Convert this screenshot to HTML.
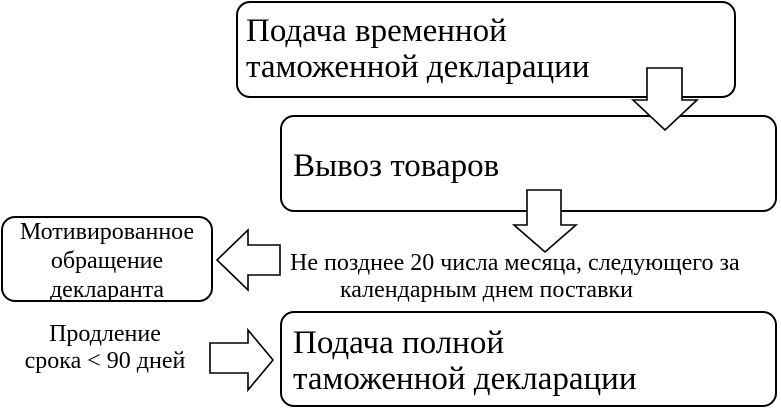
<!DOCTYPE html>
<html><head><meta charset="utf-8"><style>
body{margin:0;width:781px;height:408px;background:#fff;overflow:hidden;position:relative;font-family:"Liberation Serif","DejaVu Serif",serif;color:#000}
.b{position:absolute;border:2px solid #000;border-radius:14px;box-sizing:border-box;background:#fff}
.t{position:absolute;white-space:nowrap;line-height:1}
</style></head><body>
<div class="b" style="left:236px;top:1px;width:500px;height:97px"></div>
<div class="t" style="left:246px;top:13px;font-size:33px;line-height:36px">Подача временной<br>таможенной декларации</div>
<div class="b" style="left:280px;top:115px;width:497px;height:97px"></div>
<div class="t" style="left:293px;top:148px;font-size:33px;line-height:36px">Вывоз товаров</div>
<div class="b" style="left:1px;top:216px;width:212px;height:86px"></div>
<div class="t" style="left:1px;top:218px;width:212px;text-align:center;font-size:24px;line-height:29px">Мотивированное<br>обращение<br>декларанта</div>
<div class="b" style="left:280px;top:311px;width:497px;height:96px"></div>
<div class="t" style="left:293px;top:325px;font-size:33px;line-height:36px">Подача полной<br>таможенной декларации</div>
<div class="t" style="left:290px;top:250px;font-size:24px;line-height:27px">Не позднее 20 числа месяца, следующего за</div>
<div class="t" style="left:340px;top:277px;font-size:24px;line-height:27px">календарным днем поставки</div>
<div class="t" style="left:5px;top:321px;width:200px;text-align:center;font-size:24px;line-height:27px">Продление<br>срока &lt; 90 дней</div>
<svg width="781" height="408" style="position:absolute;left:0;top:0" fill="#fff" stroke="#000" stroke-width="1.6">
<polygon points="647,68 682,68 682,100 697,100 665,130 633,100 647,100"/>
<polygon points="527,190 561,190 561,225 576,225 545,252 514,225 527,225"/>
<polygon points="280,245 280,275 248,275 248,290 217,260 248,230 248,245"/>
<polygon points="210,343 248,343 248,330 273,360 248,390 248,373 210,373"/>
</svg>
</body></html>
